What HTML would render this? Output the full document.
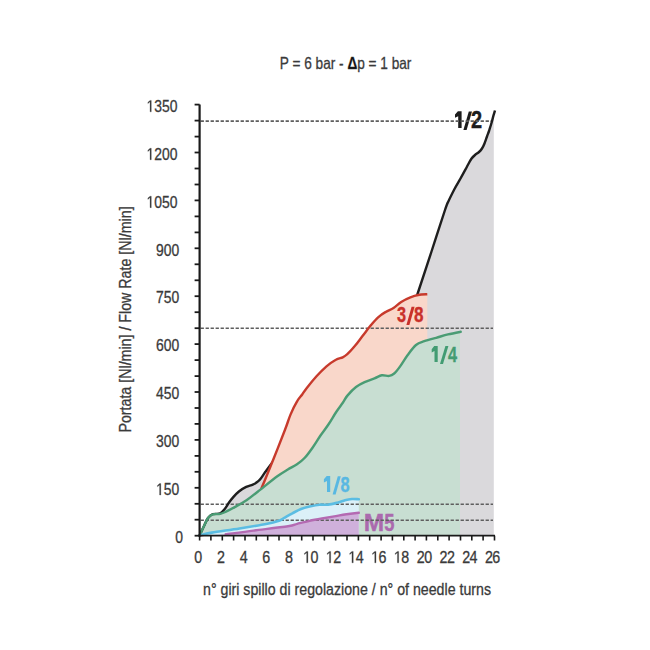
<!DOCTYPE html><html><head><meta charset="utf-8"><style>html,body{margin:0;padding:0;background:#fff;width:650px;height:650px;overflow:hidden}svg{display:block}</style></head><body><svg width="650" height="650" viewBox="0 0 650 650"><rect width="650" height="650" fill="#ffffff"/><defs><mask id="mr" maskUnits="userSpaceOnUse" x="0" y="0" width="650" height="650"><rect width="650" height="650" fill="#fff"/><path d="M199.6,535.5 C205.5,534.1 225.8,532.3 235.0,527.0 C244.2,521.7 249.9,510.3 254.5,503.5 C259.1,496.7 259.1,493.9 262.3,486.3 C265.5,478.8 270.0,467.6 273.8,458.2 C277.6,448.8 282.2,437.1 285.0,429.8 C287.8,422.5 288.5,419.4 290.5,414.6 C292.5,409.8 295.2,404.6 297.2,401.2 C299.1,397.8 300.6,396.7 302.2,394.5 C303.8,392.3 304.4,390.9 306.8,387.9 C309.2,384.9 313.3,379.9 316.5,376.3 C319.7,372.8 323.0,369.4 326.2,366.6 C329.4,363.8 333.1,361.2 335.9,359.7 C338.6,358.1 340.8,358.2 342.7,357.3 C344.6,356.4 345.2,356.1 347.3,354.2 C349.4,352.3 352.4,348.9 355.0,345.8 C357.6,342.7 360.1,339.1 362.7,335.8 C365.3,332.5 367.8,328.9 370.4,325.8 C373.0,322.7 375.5,319.6 378.1,317.3 C380.7,315.0 383.2,313.4 385.8,311.9 C388.4,310.3 390.9,309.7 393.5,308.0 C396.1,306.3 398.4,303.7 401.2,301.9 C404.0,300.1 407.6,298.4 410.4,297.3 C413.2,296.2 415.3,295.5 418.1,295.0 C420.9,294.5 425.8,294.3 427.3,294.2 L427.3,294.2 L427.3,535.5 Z" fill="#000"/></mask><mask id="mg" maskUnits="userSpaceOnUse" x="0" y="0" width="650" height="650"><rect width="650" height="650" fill="#fff"/><path d="M199.6,535.5 C200.0,534.6 201.2,532.0 202.0,530.3 C202.8,528.5 203.5,527.0 204.5,525.0 C205.5,523.0 206.6,519.8 208.0,518.0 C209.4,516.2 210.8,515.1 212.8,514.4 C214.8,513.7 218.0,514.4 220.2,513.9 C222.4,513.4 223.4,512.8 226.0,511.6 C228.6,510.4 232.3,508.5 235.7,506.6 C239.1,504.7 242.8,502.7 246.5,500.2 C250.2,497.7 252.9,495.5 258.0,491.5 C263.1,487.5 272.3,480.0 277.3,476.3 C282.3,472.6 284.5,471.5 287.8,469.5 C291.1,467.5 294.2,466.2 297.0,464.3 C299.8,462.4 302.2,460.6 304.8,457.8 C307.4,455.0 310.1,451.2 312.7,447.5 C315.3,443.8 317.9,439.3 320.5,435.5 C323.1,431.7 325.8,428.4 328.4,424.5 C331.0,420.6 333.8,415.6 336.2,412.0 C338.6,408.4 340.9,405.5 342.8,402.8 C344.7,400.1 345.2,398.2 347.4,395.6 C349.6,393.0 353.1,389.2 356.0,387.0 C358.9,384.8 361.5,383.5 364.6,382.1 C367.7,380.7 371.6,379.5 374.5,378.4 C377.4,377.3 379.4,375.7 381.8,375.3 C384.2,374.9 387.1,376.2 389.2,375.9 C391.3,375.6 392.3,375.1 394.2,373.5 C396.1,371.9 398.1,369.2 400.3,366.1 C402.6,363.0 405.1,358.5 407.7,355.0 C410.3,351.5 413.2,347.3 416.0,345.0 C418.8,342.7 420.9,342.4 424.3,341.2 C427.7,340.0 432.2,338.9 436.2,337.8 C440.1,336.7 443.9,335.4 448.0,334.4 C452.1,333.4 458.6,332.2 460.7,331.8 L460.0,331.8 L460.0,535.5 Z" fill="#000"/></mask></defs><path d="M199.6,535.5 C200.0,534.6 201.2,532.0 202.0,530.3 C202.8,528.5 203.5,527.0 204.5,525.0 C205.5,523.0 206.6,519.8 208.0,518.0 C209.4,516.2 210.8,515.0 212.8,514.2 C214.8,513.4 218.2,514.3 220.2,513.4 C222.2,512.5 223.4,510.6 224.9,508.8 C226.4,507.0 227.8,504.3 229.2,502.3 C230.6,500.3 231.9,498.7 233.5,496.9 C235.1,495.1 236.8,493.2 238.9,491.5 C241.0,489.8 243.9,488.0 246.2,486.9 C248.5,485.8 250.9,485.5 252.8,484.6 C254.7,483.8 256.2,482.8 257.5,481.8 C258.8,480.8 259.5,480.3 260.8,478.6 C262.1,476.9 263.5,474.4 265.4,471.8 C267.3,469.2 268.1,468.1 272.2,462.8 C276.3,457.5 280.4,450.5 290.0,440.0 C299.6,429.5 316.7,410.8 330.0,400.0 C343.3,389.2 358.3,383.8 370.0,375.0 C381.7,366.2 393.7,355.8 400.0,347.0 C406.3,338.2 405.0,331.6 408.0,322.5 C411.0,313.4 414.1,304.3 418.0,292.5 C421.9,280.7 427.0,265.2 431.5,251.5 C436.0,237.8 442.1,218.5 445.0,210.0 C447.9,201.5 447.2,204.0 448.8,200.5 C450.4,197.0 452.6,192.7 454.5,189.0 C456.4,185.3 458.4,182.2 460.5,178.5 C462.6,174.8 465.0,170.3 466.8,167.0 C468.6,163.7 470.0,160.8 471.4,158.8 C472.8,156.8 473.7,156.1 475.0,155.0 C476.3,153.9 477.8,153.1 479.0,152.0 C480.2,150.9 481.1,149.9 482.0,148.5 C482.9,147.1 483.7,145.5 484.5,143.5 C485.3,141.5 486.2,138.7 487.0,136.5 C487.8,134.3 488.4,132.8 489.2,130.5 C489.9,128.2 490.8,125.5 491.5,123.0 C492.2,120.5 492.9,117.5 493.5,115.4 C494.1,113.3 494.8,111.3 495.0,110.5 L493.8,110.5 L493.8,535.5 Z" fill="#dad9dc"/><path d="M199.6,535.5 C205.5,534.1 225.8,532.3 235.0,527.0 C244.2,521.7 249.9,510.3 254.5,503.5 C259.1,496.7 259.1,493.9 262.3,486.3 C265.5,478.8 270.0,467.6 273.8,458.2 C277.6,448.8 282.2,437.1 285.0,429.8 C287.8,422.5 288.5,419.4 290.5,414.6 C292.5,409.8 295.2,404.6 297.2,401.2 C299.1,397.8 300.6,396.7 302.2,394.5 C303.8,392.3 304.4,390.9 306.8,387.9 C309.2,384.9 313.3,379.9 316.5,376.3 C319.7,372.8 323.0,369.4 326.2,366.6 C329.4,363.8 333.1,361.2 335.9,359.7 C338.6,358.1 340.8,358.2 342.7,357.3 C344.6,356.4 345.2,356.1 347.3,354.2 C349.4,352.3 352.4,348.9 355.0,345.8 C357.6,342.7 360.1,339.1 362.7,335.8 C365.3,332.5 367.8,328.9 370.4,325.8 C373.0,322.7 375.5,319.6 378.1,317.3 C380.7,315.0 383.2,313.4 385.8,311.9 C388.4,310.3 390.9,309.7 393.5,308.0 C396.1,306.3 398.4,303.7 401.2,301.9 C404.0,300.1 407.6,298.4 410.4,297.3 C413.2,296.2 415.3,295.5 418.1,295.0 C420.9,294.5 425.8,294.3 427.3,294.2 L427.3,294.2 L427.3,535.5 Z" fill="#f9d7ca"/><path d="M199.6,535.5 C200.0,534.6 201.2,532.0 202.0,530.3 C202.8,528.5 203.5,527.0 204.5,525.0 C205.5,523.0 206.6,519.8 208.0,518.0 C209.4,516.2 210.8,515.1 212.8,514.4 C214.8,513.7 218.0,514.4 220.2,513.9 C222.4,513.4 223.4,512.8 226.0,511.6 C228.6,510.4 232.3,508.5 235.7,506.6 C239.1,504.7 242.8,502.7 246.5,500.2 C250.2,497.7 252.9,495.5 258.0,491.5 C263.1,487.5 272.3,480.0 277.3,476.3 C282.3,472.6 284.5,471.5 287.8,469.5 C291.1,467.5 294.2,466.2 297.0,464.3 C299.8,462.4 302.2,460.6 304.8,457.8 C307.4,455.0 310.1,451.2 312.7,447.5 C315.3,443.8 317.9,439.3 320.5,435.5 C323.1,431.7 325.8,428.4 328.4,424.5 C331.0,420.6 333.8,415.6 336.2,412.0 C338.6,408.4 340.9,405.5 342.8,402.8 C344.7,400.1 345.2,398.2 347.4,395.6 C349.6,393.0 353.1,389.2 356.0,387.0 C358.9,384.8 361.5,383.5 364.6,382.1 C367.7,380.7 371.6,379.5 374.5,378.4 C377.4,377.3 379.4,375.7 381.8,375.3 C384.2,374.9 387.1,376.2 389.2,375.9 C391.3,375.6 392.3,375.1 394.2,373.5 C396.1,371.9 398.1,369.2 400.3,366.1 C402.6,363.0 405.1,358.5 407.7,355.0 C410.3,351.5 413.2,347.3 416.0,345.0 C418.8,342.7 420.9,342.4 424.3,341.2 C427.7,340.0 432.2,338.9 436.2,337.8 C440.1,336.7 443.9,335.4 448.0,334.4 C452.1,333.4 458.6,332.2 460.7,331.8 L460.0,331.8 L460.0,535.5 Z" fill="#c8ded2"/><path d="M199.6,535.5 C201.6,535.0 205.2,533.8 211.8,532.6 C218.5,531.4 230.3,530.0 239.5,528.5 C248.7,527.0 260.7,525.0 267.2,523.7 C273.7,522.4 275.5,521.8 278.3,520.9 C281.1,520.0 281.5,519.5 283.8,518.2 C286.1,516.9 289.5,514.8 292.4,513.3 C295.3,511.8 298.1,510.1 301.0,509.0 C303.9,507.9 306.5,507.2 309.6,506.5 C312.7,505.8 316.4,505.0 319.5,504.7 C322.6,504.4 325.0,505.1 328.1,504.7 C331.2,504.3 335.2,503.2 338.0,502.5 C340.8,501.8 342.7,500.8 345.0,500.2 C347.3,499.6 349.7,499.2 352.0,499.0 C354.3,498.8 357.7,499.2 358.8,499.2 L358.8,499.2 L358.8,535.5 Z" fill="#dbf0f8"/><path d="M199.6,535.5 C203.9,535.3 216.7,535.1 225.7,534.3 C234.7,533.5 243.0,531.9 253.4,530.6 C263.8,529.3 280.7,527.4 288.0,526.3 C295.3,525.2 293.7,524.7 297.3,523.8 C300.9,522.9 305.5,521.7 309.6,520.8 C313.7,519.9 317.8,519.2 321.9,518.5 C326.0,517.8 330.1,517.1 334.2,516.4 C338.3,515.7 342.4,514.9 346.5,514.3 C350.6,513.7 356.8,513.0 358.8,512.8 L358.8,512.8 L358.8,535.5 Z" fill="#cfb0db"/><path d="M457.90,111.20 L461.60,111.20 L461.60,128.10 L458.20,128.10 L458.20,116.20 L455.00,117.80 L455.00,114.60 Z" fill="#1c1c1c"/><path d="M463.40,130.00 L466.60,130.00 L472.00,111.50 L468.80,111.50 Z" fill="#1c1c1c"/><text x="0" y="0" font-size="100" font-weight="bold" fill="#1c1c1c" stroke="#1c1c1c" stroke-width="1.6" font-family="Liberation Sans, sans-serif" transform="translate(471.05 127.87) scale(0.2000 0.2353)">2</text><text x="0" y="0" font-size="100" font-weight="bold" fill="#c9302a" stroke="#c9302a" stroke-width="1.6" font-family="Liberation Sans, sans-serif" transform="translate(397.07 322.42) scale(0.1633 0.2260)">3</text><path d="M406.40,325.00 L409.40,325.00 L414.60,306.70 L411.60,306.70 Z" fill="#c9302a"/><text x="0" y="0" font-size="100" font-weight="bold" fill="#c9302a" stroke="#c9302a" stroke-width="1.6" font-family="Liberation Sans, sans-serif" transform="translate(414.10 322.45) scale(0.1707 0.2263)">8</text><path d="M434.20,345.90 L437.70,345.90 L437.70,362.10 L434.50,362.10 L434.50,350.90 L431.70,352.50 L431.70,349.30 Z" fill="#429c72"/><path d="M440.00,364.00 L443.00,364.00 L448.40,345.90 L445.40,345.90 Z" fill="#429c72"/><text x="0" y="0" font-size="100" font-weight="bold" fill="#429c72" stroke="#429c72" stroke-width="1.6" font-family="Liberation Sans, sans-serif" transform="translate(448.11 361.87) scale(0.1626 0.2285)">4</text><path d="M326.70,475.90 L330.20,475.90 L330.20,492.10 L327.00,492.10 L327.00,480.90 L323.90,482.50 L323.90,479.30 Z" fill="#58b8e2"/><path d="M332.60,494.50 L335.60,494.50 L340.80,476.20 L337.80,476.20 Z" fill="#58b8e2"/><text x="0" y="0" font-size="100" font-weight="bold" fill="#58b8e2" stroke="#58b8e2" stroke-width="1.6" font-family="Liberation Sans, sans-serif" transform="translate(340.42 491.65) scale(0.1646 0.2221)">8</text><text x="0" y="0" font-size="100" font-weight="bold" fill="#ab6aae" stroke="#ab6aae" stroke-width="1.6" font-family="Liberation Sans, sans-serif" transform="translate(363.81 531.27) scale(0.2450 0.2402)">M</text><text x="0" y="0" font-size="100" font-weight="bold" fill="#ab6aae" stroke="#ab6aae" stroke-width="1.6" font-family="Liberation Sans, sans-serif" transform="translate(384.28 531.04) scale(0.1835 0.2367)">5</text><line x1="200.6" y1="121.1" x2="492.0" y2="121.1" stroke="#5e5e5e" stroke-width="1.6" stroke-dasharray="3.3 1.7"/><line x1="200.6" y1="328.2" x2="493.0" y2="328.2" stroke="#5e5e5e" stroke-width="1.6" stroke-dasharray="3.3 1.7"/><line x1="200.6" y1="504.3" x2="493.0" y2="504.3" stroke="#5e5e5e" stroke-width="1.6" stroke-dasharray="3.3 1.7"/><line x1="200.6" y1="520.2" x2="493.0" y2="520.2" stroke="#5e5e5e" stroke-width="1.6" stroke-dasharray="3.3 1.7"/><path d="M199.6,535.5 C200.0,534.6 201.2,532.0 202.0,530.3 C202.8,528.5 203.5,527.0 204.5,525.0 C205.5,523.0 206.6,519.8 208.0,518.0 C209.4,516.2 210.8,515.0 212.8,514.2 C214.8,513.4 218.2,514.3 220.2,513.4 C222.2,512.5 223.4,510.6 224.9,508.8 C226.4,507.0 227.8,504.3 229.2,502.3 C230.6,500.3 231.9,498.7 233.5,496.9 C235.1,495.1 236.8,493.2 238.9,491.5 C241.0,489.8 243.9,488.0 246.2,486.9 C248.5,485.8 250.9,485.5 252.8,484.6 C254.7,483.8 256.2,482.8 257.5,481.8 C258.8,480.8 259.5,480.3 260.8,478.6 C262.1,476.9 263.5,474.4 265.4,471.8 C267.3,469.2 268.1,468.1 272.2,462.8 C276.3,457.5 280.4,450.5 290.0,440.0 C299.6,429.5 316.7,410.8 330.0,400.0 C343.3,389.2 358.3,383.8 370.0,375.0 C381.7,366.2 393.7,355.8 400.0,347.0 C406.3,338.2 405.0,331.6 408.0,322.5 C411.0,313.4 414.1,304.3 418.0,292.5 C421.9,280.7 427.0,265.2 431.5,251.5 C436.0,237.8 442.1,218.5 445.0,210.0 C447.9,201.5 447.2,204.0 448.8,200.5 C450.4,197.0 452.6,192.7 454.5,189.0 C456.4,185.3 458.4,182.2 460.5,178.5 C462.6,174.8 465.0,170.3 466.8,167.0 C468.6,163.7 470.0,160.8 471.4,158.8 C472.8,156.8 473.7,156.1 475.0,155.0 C476.3,153.9 477.8,153.1 479.0,152.0 C480.2,150.9 481.1,149.9 482.0,148.5 C482.9,147.1 483.7,145.5 484.5,143.5 C485.3,141.5 486.2,138.7 487.0,136.5 C487.8,134.3 488.4,132.8 489.2,130.5 C489.9,128.2 490.8,125.5 491.5,123.0 C492.2,120.5 492.9,117.5 493.5,115.4 C494.1,113.3 494.8,111.3 495.0,110.5" fill="none" stroke="#1e1e1e" stroke-width="2.4" stroke-linejoin="round" mask="url(#mr)"/><path d="M199.6,535.5 C205.5,534.1 225.8,532.3 235.0,527.0 C244.2,521.7 249.9,510.3 254.5,503.5 C259.1,496.7 259.1,493.9 262.3,486.3 C265.5,478.8 270.0,467.6 273.8,458.2 C277.6,448.8 282.2,437.1 285.0,429.8 C287.8,422.5 288.5,419.4 290.5,414.6 C292.5,409.8 295.2,404.6 297.2,401.2 C299.1,397.8 300.6,396.7 302.2,394.5 C303.8,392.3 304.4,390.9 306.8,387.9 C309.2,384.9 313.3,379.9 316.5,376.3 C319.7,372.8 323.0,369.4 326.2,366.6 C329.4,363.8 333.1,361.2 335.9,359.7 C338.6,358.1 340.8,358.2 342.7,357.3 C344.6,356.4 345.2,356.1 347.3,354.2 C349.4,352.3 352.4,348.9 355.0,345.8 C357.6,342.7 360.1,339.1 362.7,335.8 C365.3,332.5 367.8,328.9 370.4,325.8 C373.0,322.7 375.5,319.6 378.1,317.3 C380.7,315.0 383.2,313.4 385.8,311.9 C388.4,310.3 390.9,309.7 393.5,308.0 C396.1,306.3 398.4,303.7 401.2,301.9 C404.0,300.1 407.6,298.4 410.4,297.3 C413.2,296.2 415.3,295.5 418.1,295.0 C420.9,294.5 425.8,294.3 427.3,294.2" fill="none" stroke="#c73a2c" stroke-width="2.4" stroke-linejoin="round" mask="url(#mg)"/><path d="M199.6,535.5 C200.0,534.6 201.2,532.0 202.0,530.3 C202.8,528.5 203.5,527.0 204.5,525.0 C205.5,523.0 206.6,519.8 208.0,518.0 C209.4,516.2 210.8,515.1 212.8,514.4 C214.8,513.7 218.0,514.4 220.2,513.9 C222.4,513.4 223.4,512.8 226.0,511.6 C228.6,510.4 232.3,508.5 235.7,506.6 C239.1,504.7 242.8,502.7 246.5,500.2 C250.2,497.7 252.9,495.5 258.0,491.5 C263.1,487.5 272.3,480.0 277.3,476.3 C282.3,472.6 284.5,471.5 287.8,469.5 C291.1,467.5 294.2,466.2 297.0,464.3 C299.8,462.4 302.2,460.6 304.8,457.8 C307.4,455.0 310.1,451.2 312.7,447.5 C315.3,443.8 317.9,439.3 320.5,435.5 C323.1,431.7 325.8,428.4 328.4,424.5 C331.0,420.6 333.8,415.6 336.2,412.0 C338.6,408.4 340.9,405.5 342.8,402.8 C344.7,400.1 345.2,398.2 347.4,395.6 C349.6,393.0 353.1,389.2 356.0,387.0 C358.9,384.8 361.5,383.5 364.6,382.1 C367.7,380.7 371.6,379.5 374.5,378.4 C377.4,377.3 379.4,375.7 381.8,375.3 C384.2,374.9 387.1,376.2 389.2,375.9 C391.3,375.6 392.3,375.1 394.2,373.5 C396.1,371.9 398.1,369.2 400.3,366.1 C402.6,363.0 405.1,358.5 407.7,355.0 C410.3,351.5 413.2,347.3 416.0,345.0 C418.8,342.7 420.9,342.4 424.3,341.2 C427.7,340.0 432.2,338.9 436.2,337.8 C440.1,336.7 443.9,335.4 448.0,334.4 C452.1,333.4 458.6,332.2 460.7,331.8" fill="none" stroke="#4a9c74" stroke-width="2.4" stroke-linejoin="round" stroke-linecap="round"/><path d="M225.7,534.3 C230.3,533.7 243.0,531.9 253.4,530.6 C263.8,529.3 280.7,527.4 288.0,526.3 C295.3,525.2 293.7,524.7 297.3,523.8 C300.9,522.9 305.5,521.7 309.6,520.8 C313.7,519.9 317.8,519.2 321.9,518.5 C326.0,517.8 330.1,517.1 334.2,516.4 C338.3,515.7 342.4,514.9 346.5,514.3 C350.6,513.7 356.8,513.0 358.8,512.8" fill="none" stroke="#b46ab2" stroke-width="2.4" stroke-linejoin="round" stroke-linecap="round"/><path d="M199.6,535.5 C201.6,535.0 205.2,533.8 211.8,532.6 C218.5,531.4 230.3,530.0 239.5,528.5 C248.7,527.0 260.7,525.0 267.2,523.7 C273.7,522.4 275.5,521.8 278.3,520.9 C281.1,520.0 281.5,519.5 283.8,518.2 C286.1,516.9 289.5,514.8 292.4,513.3 C295.3,511.8 298.1,510.1 301.0,509.0 C303.9,507.9 306.5,507.2 309.6,506.5 C312.7,505.8 316.4,505.0 319.5,504.7 C322.6,504.4 325.0,505.1 328.1,504.7 C331.2,504.3 335.2,503.2 338.0,502.5 C340.8,501.8 342.7,500.8 345.0,500.2 C347.3,499.6 349.7,499.2 352.0,499.0 C354.3,498.8 357.7,499.2 358.8,499.2" fill="none" stroke="#5bbde3" stroke-width="2.6" stroke-linejoin="round" stroke-linecap="round"/><line x1="199.6" y1="104.5" x2="199.6" y2="536.6" stroke="#1a1a1a" stroke-width="2.2"/><line x1="198.6" y1="535.7" x2="495" y2="535.7" stroke="#1a1a1a" stroke-width="1.8"/><line x1="194.6" y1="535.7" x2="199.6" y2="535.7" stroke="#1a1a1a" stroke-width="1.8"/><line x1="194.6" y1="519.7" x2="199.6" y2="519.7" stroke="#1a1a1a" stroke-width="1.8"/><line x1="194.6" y1="503.8" x2="199.6" y2="503.8" stroke="#1a1a1a" stroke-width="1.8"/><line x1="194.6" y1="487.8" x2="199.6" y2="487.8" stroke="#1a1a1a" stroke-width="1.8"/><line x1="194.6" y1="471.8" x2="199.6" y2="471.8" stroke="#1a1a1a" stroke-width="1.8"/><line x1="194.6" y1="455.9" x2="199.6" y2="455.9" stroke="#1a1a1a" stroke-width="1.8"/><line x1="194.6" y1="439.9" x2="199.6" y2="439.9" stroke="#1a1a1a" stroke-width="1.8"/><line x1="194.6" y1="423.9" x2="199.6" y2="423.9" stroke="#1a1a1a" stroke-width="1.8"/><line x1="194.6" y1="408.0" x2="199.6" y2="408.0" stroke="#1a1a1a" stroke-width="1.8"/><line x1="194.6" y1="392.0" x2="199.6" y2="392.0" stroke="#1a1a1a" stroke-width="1.8"/><line x1="194.6" y1="376.1" x2="199.6" y2="376.1" stroke="#1a1a1a" stroke-width="1.8"/><line x1="194.6" y1="360.1" x2="199.6" y2="360.1" stroke="#1a1a1a" stroke-width="1.8"/><line x1="194.6" y1="344.1" x2="199.6" y2="344.1" stroke="#1a1a1a" stroke-width="1.8"/><line x1="194.6" y1="328.2" x2="199.6" y2="328.2" stroke="#1a1a1a" stroke-width="1.8"/><line x1="194.6" y1="312.2" x2="199.6" y2="312.2" stroke="#1a1a1a" stroke-width="1.8"/><line x1="194.6" y1="296.2" x2="199.6" y2="296.2" stroke="#1a1a1a" stroke-width="1.8"/><line x1="194.6" y1="280.3" x2="199.6" y2="280.3" stroke="#1a1a1a" stroke-width="1.8"/><line x1="194.6" y1="264.3" x2="199.6" y2="264.3" stroke="#1a1a1a" stroke-width="1.8"/><line x1="194.6" y1="248.3" x2="199.6" y2="248.3" stroke="#1a1a1a" stroke-width="1.8"/><line x1="194.6" y1="232.4" x2="199.6" y2="232.4" stroke="#1a1a1a" stroke-width="1.8"/><line x1="194.6" y1="216.4" x2="199.6" y2="216.4" stroke="#1a1a1a" stroke-width="1.8"/><line x1="194.6" y1="200.4" x2="199.6" y2="200.4" stroke="#1a1a1a" stroke-width="1.8"/><line x1="194.6" y1="184.5" x2="199.6" y2="184.5" stroke="#1a1a1a" stroke-width="1.8"/><line x1="194.6" y1="168.5" x2="199.6" y2="168.5" stroke="#1a1a1a" stroke-width="1.8"/><line x1="194.6" y1="152.5" x2="199.6" y2="152.5" stroke="#1a1a1a" stroke-width="1.8"/><line x1="194.6" y1="136.6" x2="199.6" y2="136.6" stroke="#1a1a1a" stroke-width="1.8"/><line x1="194.6" y1="120.6" x2="199.6" y2="120.6" stroke="#1a1a1a" stroke-width="1.8"/><line x1="194.6" y1="104.6" x2="199.6" y2="104.6" stroke="#1a1a1a" stroke-width="1.8"/><line x1="199.6" y1="535.7" x2="199.6" y2="540.5" stroke="#1a1a1a" stroke-width="1.6"/><line x1="210.9" y1="535.7" x2="210.9" y2="540.5" stroke="#1a1a1a" stroke-width="1.6"/><line x1="222.3" y1="535.7" x2="222.3" y2="540.5" stroke="#1a1a1a" stroke-width="1.6"/><line x1="233.6" y1="535.7" x2="233.6" y2="540.5" stroke="#1a1a1a" stroke-width="1.6"/><line x1="245.0" y1="535.7" x2="245.0" y2="540.5" stroke="#1a1a1a" stroke-width="1.6"/><line x1="256.3" y1="535.7" x2="256.3" y2="540.5" stroke="#1a1a1a" stroke-width="1.6"/><line x1="267.7" y1="535.7" x2="267.7" y2="540.5" stroke="#1a1a1a" stroke-width="1.6"/><line x1="279.0" y1="535.7" x2="279.0" y2="540.5" stroke="#1a1a1a" stroke-width="1.6"/><line x1="290.3" y1="535.7" x2="290.3" y2="540.5" stroke="#1a1a1a" stroke-width="1.6"/><line x1="301.7" y1="535.7" x2="301.7" y2="540.5" stroke="#1a1a1a" stroke-width="1.6"/><line x1="313.0" y1="535.7" x2="313.0" y2="540.5" stroke="#1a1a1a" stroke-width="1.6"/><line x1="324.4" y1="535.7" x2="324.4" y2="540.5" stroke="#1a1a1a" stroke-width="1.6"/><line x1="335.7" y1="535.7" x2="335.7" y2="540.5" stroke="#1a1a1a" stroke-width="1.6"/><line x1="347.0" y1="535.7" x2="347.0" y2="540.5" stroke="#1a1a1a" stroke-width="1.6"/><line x1="358.4" y1="535.7" x2="358.4" y2="540.5" stroke="#1a1a1a" stroke-width="1.6"/><line x1="369.7" y1="535.7" x2="369.7" y2="540.5" stroke="#1a1a1a" stroke-width="1.6"/><line x1="381.1" y1="535.7" x2="381.1" y2="540.5" stroke="#1a1a1a" stroke-width="1.6"/><line x1="392.4" y1="535.7" x2="392.4" y2="540.5" stroke="#1a1a1a" stroke-width="1.6"/><line x1="403.8" y1="535.7" x2="403.8" y2="540.5" stroke="#1a1a1a" stroke-width="1.6"/><line x1="415.1" y1="535.7" x2="415.1" y2="540.5" stroke="#1a1a1a" stroke-width="1.6"/><line x1="426.4" y1="535.7" x2="426.4" y2="540.5" stroke="#1a1a1a" stroke-width="1.6"/><line x1="437.8" y1="535.7" x2="437.8" y2="540.5" stroke="#1a1a1a" stroke-width="1.6"/><line x1="449.1" y1="535.7" x2="449.1" y2="540.5" stroke="#1a1a1a" stroke-width="1.6"/><line x1="460.5" y1="535.7" x2="460.5" y2="540.5" stroke="#1a1a1a" stroke-width="1.6"/><line x1="471.8" y1="535.7" x2="471.8" y2="540.5" stroke="#1a1a1a" stroke-width="1.6"/><line x1="483.1" y1="535.7" x2="483.1" y2="540.5" stroke="#1a1a1a" stroke-width="1.6"/><line x1="494.5" y1="535.7" x2="494.5" y2="540.5" stroke="#1a1a1a" stroke-width="1.6"/><text x="0" y="0" font-size="16.6" fill="#3a3a3a" stroke="#3a3a3a" stroke-width="0.3" font-family="Liberation Sans, sans-serif" transform="translate(175.20 542.90) scale(0.840 1)">0</text><path d="M251,-688 L339,-688 L339,0 L251,0 L251,-605 L96,-497 L96,-577 Z" fill="#3a3a3a" stroke="#3a3a3a" stroke-width="18.1" transform="translate(156.10 495.01) scale(0.01394 0.01660)"/><text x="0" y="0" font-size="16.6" fill="#3a3a3a" stroke="#3a3a3a" stroke-width="0.3" font-family="Liberation Sans, sans-serif" transform="translate(163.85 495.01) scale(0.840 1)">5</text><text x="0" y="0" font-size="16.6" fill="#3a3a3a" stroke="#3a3a3a" stroke-width="0.3" font-family="Liberation Sans, sans-serif" transform="translate(171.60 495.01) scale(0.840 1)">0</text><text x="0" y="0" font-size="16.6" fill="#3a3a3a" stroke="#3a3a3a" stroke-width="0.3" font-family="Liberation Sans, sans-serif" transform="translate(156.10 447.11) scale(0.840 1)">3</text><text x="0" y="0" font-size="16.6" fill="#3a3a3a" stroke="#3a3a3a" stroke-width="0.3" font-family="Liberation Sans, sans-serif" transform="translate(163.85 447.11) scale(0.840 1)">0</text><text x="0" y="0" font-size="16.6" fill="#3a3a3a" stroke="#3a3a3a" stroke-width="0.3" font-family="Liberation Sans, sans-serif" transform="translate(171.60 447.11) scale(0.840 1)">0</text><text x="0" y="0" font-size="16.6" fill="#3a3a3a" stroke="#3a3a3a" stroke-width="0.3" font-family="Liberation Sans, sans-serif" transform="translate(156.10 399.22) scale(0.840 1)">4</text><text x="0" y="0" font-size="16.6" fill="#3a3a3a" stroke="#3a3a3a" stroke-width="0.3" font-family="Liberation Sans, sans-serif" transform="translate(163.85 399.22) scale(0.840 1)">5</text><text x="0" y="0" font-size="16.6" fill="#3a3a3a" stroke="#3a3a3a" stroke-width="0.3" font-family="Liberation Sans, sans-serif" transform="translate(171.60 399.22) scale(0.840 1)">0</text><text x="0" y="0" font-size="16.6" fill="#3a3a3a" stroke="#3a3a3a" stroke-width="0.3" font-family="Liberation Sans, sans-serif" transform="translate(156.10 351.32) scale(0.840 1)">6</text><text x="0" y="0" font-size="16.6" fill="#3a3a3a" stroke="#3a3a3a" stroke-width="0.3" font-family="Liberation Sans, sans-serif" transform="translate(163.85 351.32) scale(0.840 1)">0</text><text x="0" y="0" font-size="16.6" fill="#3a3a3a" stroke="#3a3a3a" stroke-width="0.3" font-family="Liberation Sans, sans-serif" transform="translate(171.60 351.32) scale(0.840 1)">0</text><text x="0" y="0" font-size="16.6" fill="#3a3a3a" stroke="#3a3a3a" stroke-width="0.3" font-family="Liberation Sans, sans-serif" transform="translate(156.10 303.43) scale(0.840 1)">7</text><text x="0" y="0" font-size="16.6" fill="#3a3a3a" stroke="#3a3a3a" stroke-width="0.3" font-family="Liberation Sans, sans-serif" transform="translate(163.85 303.43) scale(0.840 1)">5</text><text x="0" y="0" font-size="16.6" fill="#3a3a3a" stroke="#3a3a3a" stroke-width="0.3" font-family="Liberation Sans, sans-serif" transform="translate(171.60 303.43) scale(0.840 1)">0</text><text x="0" y="0" font-size="16.6" fill="#3a3a3a" stroke="#3a3a3a" stroke-width="0.3" font-family="Liberation Sans, sans-serif" transform="translate(156.10 255.53) scale(0.840 1)">9</text><text x="0" y="0" font-size="16.6" fill="#3a3a3a" stroke="#3a3a3a" stroke-width="0.3" font-family="Liberation Sans, sans-serif" transform="translate(163.85 255.53) scale(0.840 1)">0</text><text x="0" y="0" font-size="16.6" fill="#3a3a3a" stroke="#3a3a3a" stroke-width="0.3" font-family="Liberation Sans, sans-serif" transform="translate(171.60 255.53) scale(0.840 1)">0</text><path d="M251,-688 L339,-688 L339,0 L251,0 L251,-605 L96,-497 L96,-577 Z" fill="#3a3a3a" stroke="#3a3a3a" stroke-width="18.1" transform="translate(146.55 207.64) scale(0.01394 0.01660)"/><text x="0" y="0" font-size="16.6" fill="#3a3a3a" stroke="#3a3a3a" stroke-width="0.3" font-family="Liberation Sans, sans-serif" transform="translate(154.30 207.64) scale(0.840 1)">0</text><text x="0" y="0" font-size="16.6" fill="#3a3a3a" stroke="#3a3a3a" stroke-width="0.3" font-family="Liberation Sans, sans-serif" transform="translate(162.05 207.64) scale(0.840 1)">5</text><text x="0" y="0" font-size="16.6" fill="#3a3a3a" stroke="#3a3a3a" stroke-width="0.3" font-family="Liberation Sans, sans-serif" transform="translate(169.80 207.64) scale(0.840 1)">0</text><path d="M251,-688 L339,-688 L339,0 L251,0 L251,-605 L96,-497 L96,-577 Z" fill="#3a3a3a" stroke="#3a3a3a" stroke-width="18.1" transform="translate(146.55 159.74) scale(0.01394 0.01660)"/><text x="0" y="0" font-size="16.6" fill="#3a3a3a" stroke="#3a3a3a" stroke-width="0.3" font-family="Liberation Sans, sans-serif" transform="translate(154.30 159.74) scale(0.840 1)">2</text><text x="0" y="0" font-size="16.6" fill="#3a3a3a" stroke="#3a3a3a" stroke-width="0.3" font-family="Liberation Sans, sans-serif" transform="translate(162.05 159.74) scale(0.840 1)">0</text><text x="0" y="0" font-size="16.6" fill="#3a3a3a" stroke="#3a3a3a" stroke-width="0.3" font-family="Liberation Sans, sans-serif" transform="translate(169.80 159.74) scale(0.840 1)">0</text><path d="M251,-688 L339,-688 L339,0 L251,0 L251,-605 L96,-497 L96,-577 Z" fill="#3a3a3a" stroke="#3a3a3a" stroke-width="18.1" transform="translate(146.55 111.85) scale(0.01394 0.01660)"/><text x="0" y="0" font-size="16.6" fill="#3a3a3a" stroke="#3a3a3a" stroke-width="0.3" font-family="Liberation Sans, sans-serif" transform="translate(154.30 111.85) scale(0.840 1)">3</text><text x="0" y="0" font-size="16.6" fill="#3a3a3a" stroke="#3a3a3a" stroke-width="0.3" font-family="Liberation Sans, sans-serif" transform="translate(162.05 111.85) scale(0.840 1)">5</text><text x="0" y="0" font-size="16.6" fill="#3a3a3a" stroke="#3a3a3a" stroke-width="0.3" font-family="Liberation Sans, sans-serif" transform="translate(169.80 111.85) scale(0.840 1)">0</text><text x="0" y="0" font-size="16.6" fill="#3a3a3a" stroke="#3a3a3a" stroke-width="0.3" font-family="Liberation Sans, sans-serif" transform="translate(194.34 562.80) scale(0.860 1)">0</text><text x="0" y="0" font-size="16.6" fill="#3a3a3a" stroke="#3a3a3a" stroke-width="0.3" font-family="Liberation Sans, sans-serif" transform="translate(217.02 562.80) scale(0.860 1)">2</text><text x="0" y="0" font-size="16.6" fill="#3a3a3a" stroke="#3a3a3a" stroke-width="0.3" font-family="Liberation Sans, sans-serif" transform="translate(239.75 562.80) scale(0.860 1)">4</text><text x="0" y="0" font-size="16.6" fill="#3a3a3a" stroke="#3a3a3a" stroke-width="0.3" font-family="Liberation Sans, sans-serif" transform="translate(262.34 562.80) scale(0.860 1)">6</text><text x="0" y="0" font-size="16.6" fill="#3a3a3a" stroke="#3a3a3a" stroke-width="0.3" font-family="Liberation Sans, sans-serif" transform="translate(285.07 562.80) scale(0.860 1)">8</text><path d="M251,-688 L339,-688 L339,0 L251,0 L251,-605 L96,-497 L96,-577 Z" fill="#3a3a3a" stroke="#3a3a3a" stroke-width="18.1" transform="translate(303.08 562.80) scale(0.01428 0.01660)"/><text x="0" y="0" font-size="16.6" fill="#3a3a3a" stroke="#3a3a3a" stroke-width="0.3" font-family="Liberation Sans, sans-serif" transform="translate(310.42 562.80) scale(0.860 1)">0</text><path d="M251,-688 L339,-688 L339,0 L251,0 L251,-605 L96,-497 L96,-577 Z" fill="#3a3a3a" stroke="#3a3a3a" stroke-width="18.1" transform="translate(325.85 562.80) scale(0.01428 0.01660)"/><text x="0" y="0" font-size="16.6" fill="#3a3a3a" stroke="#3a3a3a" stroke-width="0.3" font-family="Liberation Sans, sans-serif" transform="translate(333.18 562.80) scale(0.860 1)">2</text><path d="M251,-688 L339,-688 L339,0 L251,0 L251,-605 L96,-497 L96,-577 Z" fill="#3a3a3a" stroke="#3a3a3a" stroke-width="18.1" transform="translate(348.38 562.80) scale(0.01428 0.01660)"/><text x="0" y="0" font-size="16.6" fill="#3a3a3a" stroke="#3a3a3a" stroke-width="0.3" font-family="Liberation Sans, sans-serif" transform="translate(355.72 562.80) scale(0.860 1)">4</text><path d="M251,-688 L339,-688 L339,0 L251,0 L251,-605 L96,-497 L96,-577 Z" fill="#3a3a3a" stroke="#3a3a3a" stroke-width="18.1" transform="translate(371.17 562.80) scale(0.01428 0.01660)"/><text x="0" y="0" font-size="16.6" fill="#3a3a3a" stroke="#3a3a3a" stroke-width="0.3" font-family="Liberation Sans, sans-serif" transform="translate(378.51 562.80) scale(0.860 1)">6</text><path d="M251,-688 L339,-688 L339,0 L251,0 L251,-605 L96,-497 L96,-577 Z" fill="#3a3a3a" stroke="#3a3a3a" stroke-width="18.1" transform="translate(393.85 562.80) scale(0.01428 0.01660)"/><text x="0" y="0" font-size="16.6" fill="#3a3a3a" stroke="#3a3a3a" stroke-width="0.3" font-family="Liberation Sans, sans-serif" transform="translate(401.18 562.80) scale(0.860 1)">8</text><text x="0" y="0" font-size="16.6" fill="#3a3a3a" stroke="#3a3a3a" stroke-width="0.3" font-family="Liberation Sans, sans-serif" transform="translate(416.83 562.80) scale(0.860 1)">2</text><text x="0" y="0" font-size="16.6" fill="#3a3a3a" stroke="#3a3a3a" stroke-width="0.3" font-family="Liberation Sans, sans-serif" transform="translate(424.17 562.80) scale(0.860 1)">0</text><text x="0" y="0" font-size="16.6" fill="#3a3a3a" stroke="#3a3a3a" stroke-width="0.3" font-family="Liberation Sans, sans-serif" transform="translate(439.59 562.80) scale(0.860 1)">2</text><text x="0" y="0" font-size="16.6" fill="#3a3a3a" stroke="#3a3a3a" stroke-width="0.3" font-family="Liberation Sans, sans-serif" transform="translate(446.93 562.80) scale(0.860 1)">2</text><text x="0" y="0" font-size="16.6" fill="#3a3a3a" stroke="#3a3a3a" stroke-width="0.3" font-family="Liberation Sans, sans-serif" transform="translate(462.13 562.80) scale(0.860 1)">2</text><text x="0" y="0" font-size="16.6" fill="#3a3a3a" stroke="#3a3a3a" stroke-width="0.3" font-family="Liberation Sans, sans-serif" transform="translate(469.47 562.80) scale(0.860 1)">4</text><text x="0" y="0" font-size="16.6" fill="#3a3a3a" stroke="#3a3a3a" stroke-width="0.3" font-family="Liberation Sans, sans-serif" transform="translate(484.92 562.80) scale(0.860 1)">2</text><text x="0" y="0" font-size="16.6" fill="#3a3a3a" stroke="#3a3a3a" stroke-width="0.3" font-family="Liberation Sans, sans-serif" transform="translate(492.26 562.80) scale(0.860 1)">6</text><text x="279.8" y="69.1" font-size="16.5" fill="#3a3a3a" stroke="#3a3a3a" stroke-width="0.3" font-family="Liberation Sans, sans-serif" textLength="131.6" lengthAdjust="spacingAndGlyphs">P = 6 bar - <tspan font-weight="bold" fill="#111">&#916;</tspan>p = 1 bar</text><text x="203" y="594.6" font-size="16.8" fill="#3a3a3a" stroke="#3a3a3a" stroke-width="0.3" font-family="Liberation Sans, sans-serif" textLength="288" lengthAdjust="spacingAndGlyphs">n&#176; giri spillo di regolazione / n&#176; of needle turns</text><text x="0" y="0" font-size="16" fill="#3a3a3a" stroke="#3a3a3a" stroke-width="0.3" font-family="Liberation Sans, sans-serif" textLength="226.2" lengthAdjust="spacingAndGlyphs" transform="translate(130.5 432.6) rotate(-90)">Portata [Nl/min] / Flow Rate [Nl/min]</text></svg></body></html>
